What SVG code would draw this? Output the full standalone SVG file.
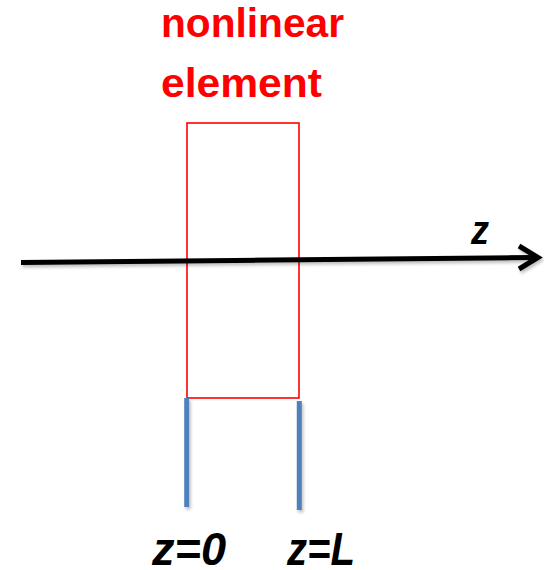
<svg xmlns="http://www.w3.org/2000/svg" width="544" height="570" viewBox="0 0 544 570">
  <defs>
    <filter id="sh" filterUnits="userSpaceOnUse" x="0" y="0" width="544" height="570">
      <feDropShadow dx="1.5" dy="2.5" stdDeviation="1.5" flood-color="#000" flood-opacity="0.25"/>
    </filter>
  </defs>
  <style>
    .title { font-family: "Liberation Sans", Arial, sans-serif; font-weight: bold; fill: #ff0000; font-size: 40px; }
    .lab { font-family: "Liberation Sans", Arial, sans-serif; font-weight: bold; font-style: italic; fill: #000; }
    .blue { stroke: #4f81bd; stroke-width: 5; fill: none; }
    .axis { stroke: #000; stroke-width: 5; fill: none; }
  </style>
  <rect width="544" height="570" fill="#fff"/>

  <g id="title">
    <text class="title" x="161" y="37" textLength="183" lengthAdjust="spacingAndGlyphs">nonlinear</text>
    <text class="title" x="161" y="97" textLength="161" lengthAdjust="spacingAndGlyphs">element</text>
  </g>

  <g id="element">
    <rect x="187" y="123" width="112" height="275" fill="none" stroke="#ff0000" stroke-width="1.6"/>
  </g>

  <g id="connectors">
    <g filter="url(#sh)">
      <path class="axis" d="M21,262.5 L536,257.5"/>
      <path class="axis" d="M519,246 L538,257.5 L519,269" stroke-linejoin="miter"/>
    </g>
  </g>

  <g id="axis-label">
    <text class="lab" x="471" y="244" font-size="40" textLength="18" lengthAdjust="spacingAndGlyphs">z</text>
  </g>

  <g id="z0">
    <line class="blue" x1="186.7" y1="398" x2="186.7" y2="507" filter="url(#sh)"/>
    <text class="lab" x="152" y="565" font-size="46" textLength="74" lengthAdjust="spacingAndGlyphs">z=0</text>
  </g>

  <g id="zL">
    <line class="blue" x1="299.3" y1="401" x2="299.3" y2="510" filter="url(#sh)"/>
    <text class="lab" x="287" y="565" font-size="46" textLength="68" lengthAdjust="spacingAndGlyphs">z=L</text>
  </g>
</svg>
